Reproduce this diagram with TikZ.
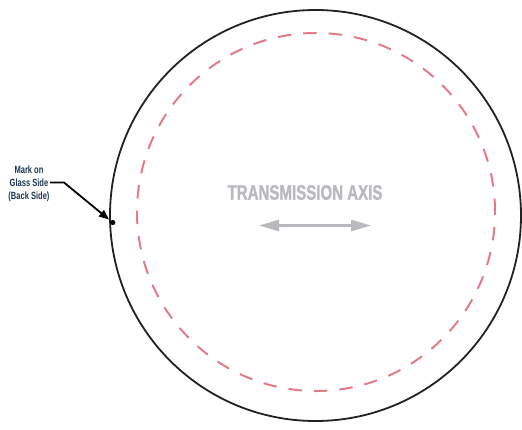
\documentclass[tikz,border=0pt]{standalone}
\usepackage{fontspec}
\setmainfont{Liberation Sans}
\newfontfamily\condbold{Liberation Sans}[FakeStretch=0.72,UprightFont={* Bold},FakeBold=1.2]
\newfontfamily\smallcond{Liberation Sans}[FakeStretch=0.72,UprightFont={* Bold}]
\usetikzlibrary{arrows.meta}
\definecolor{rimblack}{HTML}{222222}
\definecolor{dashpink}{HTML}{E27C88}
\definecolor{axisgray}{HTML}{B9B9BE}
\definecolor{labelnavy}{HTML}{1F3552}
\tikzset{
  rim/.style={draw=rimblack, line width=1.8bp},
  dashring/.style={draw=dashpink, line width=2bp, dash pattern=on 13.5bp off 12bp},
  axisarrow/.style={draw=axisgray, line width=2.6bp, {Triangle[length=20bp,width=11bp]}-{Triangle[length=20bp,width=11bp]}},
  axislabel/.style={text=axisgray, font=\condbold\fontsize{21}{24}\selectfont, inner sep=0pt},
  marklabel/.style={text=labelnavy, font=\smallcond\fontsize{10.5}{13}\selectfont, align=center, inner sep=0pt},
  pointer/.style={draw=black, line width=1.8bp, -{Triangle[length=10bp,width=8bp]}},
}
\begin{document}
\begin{tikzpicture}[x=1bp,y=-1bp]
\useasboundingbox (0,0) rectangle (522,429);
% outer rim
\node[rim, circle, minimum size=411bp, inner sep=0pt] (rim) at (315.5,215.5) {};
% inner dashed ring
\node[dashring, circle, minimum size=358bp, inner sep=0pt] (ring) at (316,212) {};
% transmission axis
\node[axislabel] (axtext) at (305,192.5) {TRANSMISSION AXIS};
\coordinate (axL) at (259,225.5);
\coordinate (axR) at (371,225.5);
\draw[axisarrow] (axL) -- (axR);
% mark
\coordinate (mark) at (112.8,222.5);
\fill[black] (mark) circle (2.6bp);
\node[marklabel] (lbl) at (29,183.5) {Mark on\\Glass Side\\(Back Side)};
\coordinate (bend) at (64,182.5);
\coordinate (tip) at (109,219.5);
\draw[pointer] (50,182.5) -- (bend) -- (tip);
\end{tikzpicture}
\end{document}
